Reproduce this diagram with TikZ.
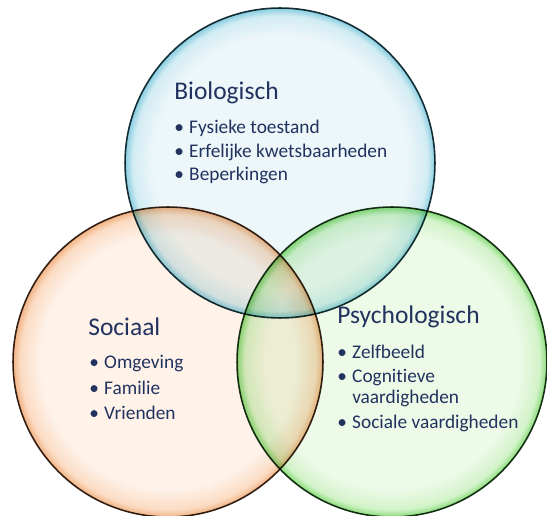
\documentclass[tikz,border=0pt]{standalone}
\usepackage{fontspec}
\setmainfont[Ligatures=NoCommon]{Carlito}
\usepackage{xcolor}

% colours of the three circles
\definecolor{textnavy}{HTML}{22325F}
\definecolor{bioin}{HTML}{EDF6F9}
\definecolor{biomid}{HTML}{D2ECF3}
\definecolor{biorim}{HTML}{86CCE0}
\definecolor{bioline}{HTML}{1A3238}
\definecolor{socin}{HTML}{FEF2E9}
\definecolor{socmid}{HTML}{FBDCC4}
\definecolor{socrim}{HTML}{F2B282}
\definecolor{socline}{HTML}{35251A}
\definecolor{psyin}{HTML}{EDFAE8}
\definecolor{psymid}{HTML}{D2F3C9}
\definecolor{psyrim}{HTML}{88DB78}
\definecolor{psyline}{HTML}{1B351A}

% the path fills the middle 50bp of a shading, so the rim sits at 25bp
\pgfdeclareradialshading{biobubble}{\pgfpoint{0bp}{0bp}}{color(0bp)=(bioin); color(20.5bp)=(bioin); color(23.8bp)=(biomid); color(25bp)=(biorim); color(50bp)=(biorim)}
\pgfdeclareradialshading{socbubble}{\pgfpoint{0bp}{0bp}}{color(0bp)=(socin); color(20.5bp)=(socin); color(23.8bp)=(socmid); color(25bp)=(socrim); color(50bp)=(socrim)}
\pgfdeclareradialshading{psybubble}{\pgfpoint{0bp}{0bp}}{color(0bp)=(psyin); color(20.5bp)=(psyin); color(23.8bp)=(psymid); color(25bp)=(psyrim); color(50bp)=(psyrim)}

\tikzset{
  bubble/.style={circle, minimum size=6.2cm, inner sep=0pt, line width=0.9pt},
  titletext/.style={anchor=base west, inner sep=0pt, text=textnavy,
    font=\fontsize{14.5}{17}\selectfont},
  itemtext/.style={anchor=base west, inner sep=0pt, text=textnavy,
    font=\fontsize{11}{12}\selectfont}
}

\newcommand{\itemlist}[1]{\begin{tabular}[t]{@{}l@{\hspace{3pt}}l@{}}#1\end{tabular}}

\begin{document}
\begin{tikzpicture}[x=0.02cm, y=-0.02cm]
  \useasboundingbox (0,0) rectangle (547,516);

  % the three circles
  \begin{scope}[blend mode=multiply]
    \node[bubble, shading=biobubble, draw=bioline] (bio) at (280,163) {};
    \node[bubble, shading=socbubble, draw=socline] (soc) at (168,362) {};
    \node[bubble, shading=psybubble, draw=psyline] (psy) at (392,362) {};
  \end{scope}

  % titles
  \node[titletext] (biotitle) at (174,100) {Biologisch};
  \node[titletext] (soctitle) at (88,336) {Sociaal};
  \node[titletext] (psytitle) at (337,324) {Psychologisch};

  % lists
  \node[itemtext] (biolist) at (174,134) {\itemlist{%
    \textbullet & Fysieke toestand\\[1.2pt]
    \textbullet & Erfelijke kwetsbaarheden\\[1.2pt]
    \textbullet & Beperkingen}};
  \node[itemtext] (soclist) at (89,369) {\itemlist{%
    \textbullet & Omgeving\\[2.5pt]
    \textbullet & Familie\\[2.5pt]
    \textbullet & Vrienden}};
  \node[itemtext] (psylist) at (337,358) {\itemlist{%
    \textbullet & Zelfbeeld\\[2pt]
    \textbullet & Cognitieve\\
                & vaardigheden\\[2pt]
    \textbullet & Sociale vaardigheden}};
\end{tikzpicture}
\end{document}
